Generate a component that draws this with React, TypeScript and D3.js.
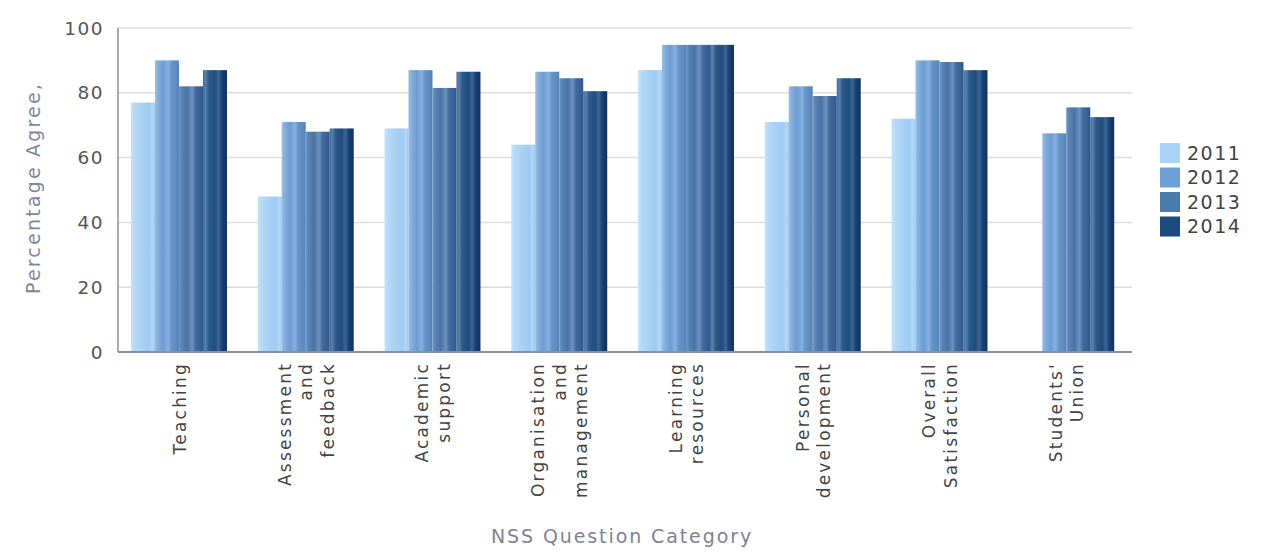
import React from "react";
import * as d3 from "d3";

const categories: string[][] = [
  ["Teaching"],
  ["Assessment", "and", "feedback"],
  ["Academic", "support"],
  ["Organisation", "and", "management"],
  ["Learning", "resources"],
  ["Personal", "development"],
  ["Overall", "Satisfaction"],
  ["Students'", "Union"],
];
const years = ["2011", "2012", "2013", "2014"];
const v2011: (number | null)[] = [77, 48, 69, 64, 87, 71, 72, null];
const v2012: (number | null)[] = [90, 71, 87, 86.5, 94.8, 82, 90, 67.5];
const v2013: (number | null)[] = [82, 68, 81.5, 84.5, 94.8, 79, 89.5, 75.5];
const v2014: (number | null)[] = [87, 69, 86.5, 80.5, 94.8, 84.5, 87, 72.5];
const series = [v2011, v2012, v2013, v2014];
const yTicks = [0, 20, 40, 60, 80, 100];

const legendColors = ["#a9d3f7", "#6d9ed6", "#4b7aae", "#1b4a7f"];
const gradStops: [number, string][][] = [
  [[0, "#c6e3fb"], [0.15, "#b5d9f8"], [0.45, "#a8d1f5"], [0.75, "#a0cbf2"], [0.9, "#b4d7f6"], [1, "#9ac6ef"]],
  [[0, "#98bee6"], [0.15, "#80acdc"], [0.35, "#6e9cd2"], [0.55, "#86b1df"], [0.7, "#6592c8"], [0.9, "#5c8ac1"], [1, "#527fb6"]],
  [[0, "#7298c2"], [0.12, "#5883b5"], [0.35, "#4a72a6"], [0.55, "#6d92bd"], [0.7, "#416b9f"], [0.9, "#366094"], [1, "#2e5588"]],
  [[0, "#3f6a9b"], [0.1, "#5881ae"], [0.25, "#2c588a"], [0.5, "#214c7e"], [0.65, "#3c6596"], [0.8, "#174172"], [1, "#0d3261"]],
];

const FONT = "'DejaVu Sans', Verdana, sans-serif";

export default function App() {
  const left = 118, right = 1132, top = 28, bottom = 352;
  const x = d3.scaleBand<number>().domain(d3.range(categories.length)).range([left, right]).padding(0);
  const y = d3.scaleLinear().domain([0, 100]).range([bottom, top]);
  const bw = x.bandwidth();
  const barW = 24;
  const groupOffset = -2.4;

  return (
    <svg width={1276} height={558} style={{ display: "block", position: "absolute", left: 0, top: 0 }}>
      <defs>
        {gradStops.map((stops, i) => (
          <linearGradient key={i} id={`g${i}`} x1="0" x2="1" y1="0" y2="0">
            {stops.map(([o, c], j) => (
              <stop key={j} offset={o} stopColor={c} />
            ))}
          </linearGradient>
        ))}
      </defs>
      <rect x={0} y={0} width={1276} height={558} fill="#fff" />
      {yTicks.filter((t) => t > 0).map((t) => (
        <line key={t} x1={left} x2={right} y1={y(t)} y2={y(t)} stroke="#dcdcdc" strokeWidth={1.5} />
      ))}
      {series.map((vals, si) =>
        vals.map((v, ci) => {
          if (v == null) return null;
          const cx = (x(ci) as number) + bw / 2 + groupOffset;
          const bx = cx - 2 * barW + si * barW;
          return (
            <rect key={`${si}-${ci}`} x={bx} y={y(v)} width={barW} height={bottom - y(v)} fill={`url(#g${si})`} />
          );
        })
      )}
      <line x1={left} x2={left} y1={top} y2={bottom} stroke="#8a8f99" strokeWidth={1.5} />
      <line x1={left} x2={right} y1={bottom} y2={bottom} stroke="#8a90a0" strokeWidth={2} />
      {yTicks.map((t) => (
        <text key={t} x={104} y={y(t)} dy="0.36em" textAnchor="end" fontFamily={FONT} fontSize={18.5} fill="#555" letterSpacing={1.5}>
          {t}
        </text>
      ))}
      {categories.map((lines, ci) => {
        const cx = (x(ci) as number) + bw / 2 - 2;
        const n = lines.length;
        return (
          <g key={ci} transform={`translate(${cx},362) rotate(-90)`}>
            {lines.map((ln, li) => (
              <text
                key={li}
                x={0}
                y={(li - (n - 1) / 2) * 21.5}
                dy="0.36em"
                textAnchor="end"
                fontFamily={FONT}
                fontSize={17}
                letterSpacing={2.2}
                fill="#444"
              >
                {ln}
              </text>
            ))}
          </g>
        );
      })}
      <text transform={`translate(33,188) rotate(-90)`} textAnchor="middle" dy="0.36em" fontFamily={FONT} fontSize={19} letterSpacing={2.2} fill="#828898">
        Percentage Agree,
      </text>
      <text x={622} y={536} textAnchor="middle" dy="0.36em" fontFamily={FONT} fontSize={19} letterSpacing={1.9} fill="#7d8394">
        NSS Question Category
      </text>
      {years.map((yr, i) => (
        <g key={yr} transform={`translate(1160,${143 + i * 24.5})`}>
          <rect x={0} y={0} width={20} height={20} fill={legendColors[i]} />
          <text x={27} y={10} dy="0.36em" fontFamily={FONT} fontSize={19} letterSpacing={1.5} fill="#444">
            {yr}
          </text>
        </g>
      ))}
    </svg>
  );
}
